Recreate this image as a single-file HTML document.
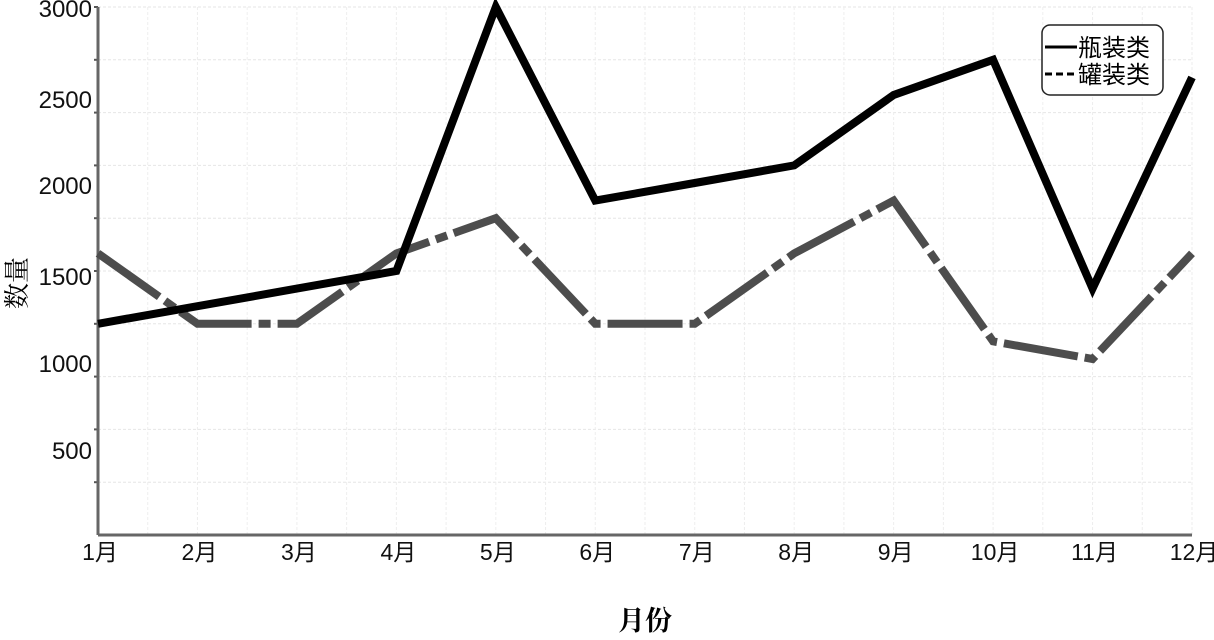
<!DOCTYPE html>
<html><head><meta charset="utf-8"><style>
body{margin:0;background:#fff;width:1214px;height:635px;overflow:hidden}
text{font-family:"Liberation Sans","Noto Sans CJK SC",sans-serif}
</style></head><body>
<svg width="1214" height="635" viewBox="0 0 1214 635" xmlns="http://www.w3.org/2000/svg">
<g id="grid"></g>
<g id="axes"></g>
<g id="series"></g>
<text x="645" y="630" text-anchor="middle" font-size="27" font-weight="bold" style="font-family:'Noto Serif CJK SC',serif">月份</text>
<text transform="translate(26,283) rotate(-90)" text-anchor="middle" font-size="26" style="font-family:'Noto Serif CJK SC',serif">数量</text>
<g>
<rect x="1042" y="25" width="121" height="70" rx="8" fill="#fff" stroke="#222" stroke-width="1.5"/>
<g><line x1="1045" y1="47" x2="1077" y2="47" stroke="#000" stroke-width="3"/><text x="1078" y="56" font-size="24">瓶装类</text></g>
<g><line x1="1045" y1="74" x2="1077" y2="74" stroke="#000" stroke-width="3" stroke-dasharray="7,4"/><text x="1078" y="83" font-size="24">罐装类</text></g>
</g>
</svg>
<script>
const categories=["1月","2月","3月","4月","5月","6月","7月","8月","9月","10月","11月","12月"];
const bottleValues=[1200,1300,1400,1500,3000,1900,2000,2100,2500,2700,1400,2600];
const canValues=[1600,1200,1200,1600,1800,1200,1200,1600,1900,1100,1000,1600];
const yTickLabels=["500","1000","1500","2000","2500","3000"];
const NS="http://www.w3.org/2000/svg";
const X0=98,X1=1192,Y0=535,Y1=7,YMAX=3000;
const xs=i=>X0+i*(X1-X0)/(categories.length-1);
const ys=v=>Y0-v/YMAX*(Y0-Y1);
function mk(t,a,p){const e=document.createElementNS(NS,t);for(const k in a)e.setAttribute(k,a[k]);p.appendChild(e);return e;}
const grid=document.getElementById('grid'),axes=document.getElementById('axes'),series=document.getElementById('series');
for(let v=300;v<=3000;v+=300){const l=mk('line',{x1:X0,x2:X1,y1:ys(v),y2:ys(v),stroke:'#e6e6e6','stroke-width':1,'stroke-dasharray':'3,2'},grid);


const t=mk('line',{x1:X0-4,x2:X0,y1:ys(v),y2:ys(v),stroke:'#555','stroke-width':2},axes);

}
for(let i=0;i<categories.length*2-1;i++){const x=X0+i*(X1-X0)/(2*(categories.length-1));const l=mk('line',{x1:x,x2:x,y1:Y1,y2:Y0,stroke:'#eeeeee','stroke-width':1,'stroke-dasharray':'3,2'},grid);

}
const ya=mk('line',{x1:X0,x2:X0,y1:Y1,y2:Y0,stroke:'#666','stroke-width':3},axes);


const xa=mk('line',{x1:X0,x2:X1,y1:Y0,y2:Y0,stroke:'#666','stroke-width':3},axes);


const labelOffsets=[450,363,276,185,99,8];
yTickLabels.forEach((s,i)=>{const t=mk('text',{x:92,y:labelOffsets[i]+9,'text-anchor':'end','font-size':24,fill:'#111'},axes);t.textContent=s;

});
categories.forEach((c,i)=>{const t=mk('text',{x:xs(i)+2,y:560,'text-anchor':'middle','font-size':23,fill:'#111'},axes);t.textContent=c;

});
const pts=a=>a.map((v,i)=>xs(i)+','+ys(v)).join(' ');
const can=mk('polyline',{points:pts(canValues),fill:'none',stroke:'#4d4d4d','stroke-width':8,'stroke-dasharray':'75,7,12,7','stroke-linejoin':'miter'},series);


const bot=mk('polyline',{points:pts(bottleValues),fill:'none',stroke:'#000','stroke-width':8,'stroke-linejoin':'miter'},series);


</script>
</body></html>
